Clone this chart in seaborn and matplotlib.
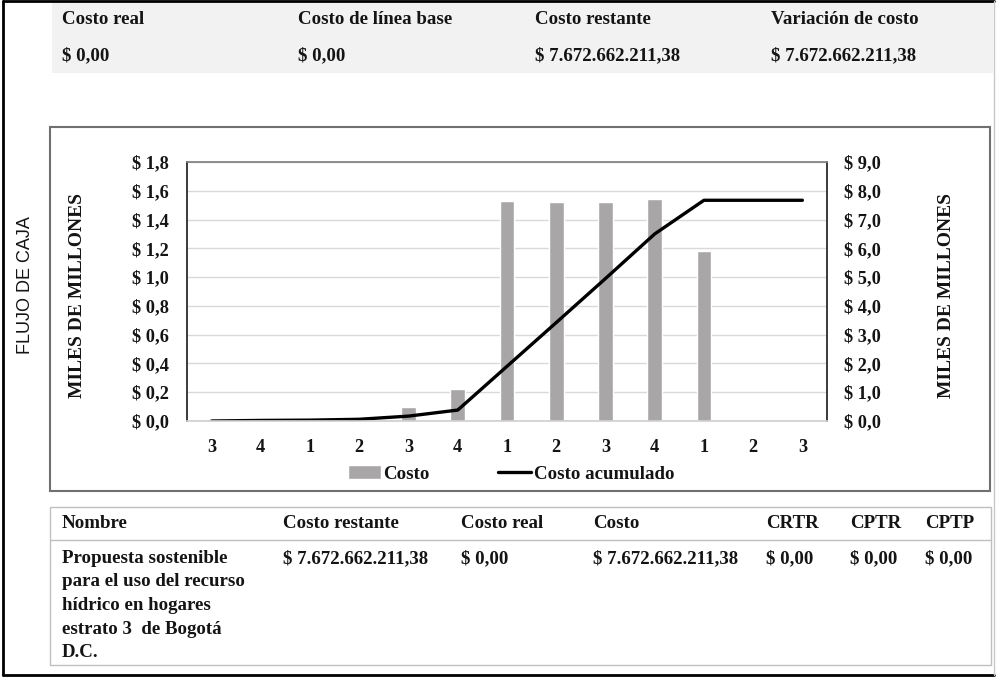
import numpy as np
import pandas as pd
import matplotlib
matplotlib.use("Agg")
from matplotlib import pyplot
from matplotlib.patches import Rectangle
from matplotlib.lines import Line2D
import matplotlib.ticker as mtick
import seaborn as sns

# datos (miles de millones)
trimestres = ["3", "4", "1", "2", "3", "4", "1", "2", "3", "4", "1", "2", "3"]
costo = [0.0, 0.01, 0.01, 0.02, 0.10, 0.22, 1.53, 1.52, 1.52, 1.54, 1.18, 0.0, 0.0]
costo_acumulado = [0.0, 0.02, 0.03, 0.06, 0.17, 0.38, 1.90, 3.42, 4.95, 6.50, 7.67, 7.67, 7.67]

resumen_titulos = ["Costo real", "Costo de línea base", "Costo restante", "Variación de costo"]
resumen_valores = [r"\$ 0,00", r"\$ 0,00", r"\$ 7.672.662.211,38", r"\$ 7.672.662.211,38"]

tabla_titulos = ["Nombre", "Costo restante", "Costo real", "Costo", "CRTR", "CPTR", "CPTP"]
tabla_valores = ["Propuesta sostenible\npara el uso del recurso\nhídrico en hogares\nestrato 3  de Bogotá\nD.C.",
                 r"\$ 7.672.662.211,38", r"\$ 0,00", r"\$ 7.672.662.211,38",
                 r"\$ 0,00", r"\$ 0,00", r"\$ 0,00"]

sns.set_theme(style="white")
pyplot.rcParams["font.family"] = ["Liberation Serif", "DejaVu Serif"]
txt = "#141414"
W, H = 996, 677

fig = pyplot.figure(figsize=(W / 100, H / 100), dpi=100)

def fx(px):
    return px / W

def fy(py):
    return 1 - py / H

def bold(x, y, s, size=13.6, **kw):
    fig.text(fx(x), fy(y), s, fontsize=size, fontweight="bold", color=txt, **kw)

# marco exterior
fig.add_artist(Line2D([fx(3), fx(3)], [fy(1), fy(675)], color="black", lw=2))
fig.add_artist(Line2D([fx(3), fx(994)], [fy(1), fy(1)], color="black", lw=2))
fig.add_artist(Line2D([fx(3), fx(994)], [fy(675), fy(675)], color="black", lw=2))
fig.add_artist(Line2D([fx(994), fx(994)], [fy(1), fy(675)], color="#c8c8c8", lw=1))

# cabecera de resumen
fig.add_artist(Rectangle((fx(52), fy(73)), fx(993) - fx(52), fy(2) - fy(73),
                         facecolor="#f2f2f2", edgecolor="none"))
for x, t, v in zip([62, 298, 535, 771], resumen_titulos, resumen_valores):
    bold(x, 19, t, va="center")
    bold(x, 56, v, va="center")

# marco del grafico
fig.add_artist(Rectangle((fx(50), fy(491)), fx(990) - fx(50), fy(127) - fy(491),
                         facecolor="none", edgecolor="#707070", lw=1.5))

ax = fig.add_axes([fx(187), fy(421), fx(827) - fx(187), fy(162) - fy(421)])
df = pd.DataFrame({"periodo": np.arange(len(trimestres)), "costo": costo,
                   "acumulado": costo_acumulado})

sns.barplot(data=df, x="periodo", y="costo", color="#a8a6a6", saturation=1,
            width=0.3, ax=ax, label="Costo")
ax2 = ax.twinx()
sns.lineplot(data=df, x="periodo", y="acumulado", color="black", lw=2.4,
             ax=ax2, label="Costo acumulado")

ax.set_xlim(-0.5, len(trimestres) - 0.5)
ax.set_ylim(0, 1.8)
ax2.set_ylim(0, 9.0)
ax.set_yticks(np.arange(0, 1.81, 0.2))
ax2.set_yticks(np.arange(0, 9.01, 1.0))
ax.yaxis.set_major_formatter(mtick.FuncFormatter(lambda v, _: "\\$ " + f"{v:.1f}".replace(".", ",")))
ax2.yaxis.set_major_formatter(mtick.FuncFormatter(lambda v, _: "\\$ " + f"{v:.1f}".replace(".", ",")))
ax.set_xticks(range(len(trimestres)))
ax.set_xticklabels(trimestres)
ax.grid(axis="y", color="#d9d9d9", lw=1)
ax.set_axisbelow(True)
ax.set_xlabel("")
ax.set_ylabel("")
ax2.set_xlabel("")
ax2.set_ylabel("")
for a in (ax, ax2):
    a.tick_params(length=0, labelsize=13.2, colors=txt)
    for lab in a.get_yticklabels() + a.get_xticklabels():
        lab.set_fontweight("bold")
ax.tick_params(axis="y", pad=13)
ax.tick_params(axis="x", pad=13)
ax2.tick_params(axis="y", pad=12)
ax2.spines["left"].set_color("#222222")
ax2.spines["right"].set_color("#222222")
ax2.spines["top"].set_color("#808080")
ax2.spines["bottom"].set_color("#d0d0d0")
for s in ax.spines.values():
    s.set_visible(False)

h1, l1 = ax.get_legend_handles_labels()
h2, l2 = ax2.get_legend_handles_labels()
ax2.get_legend().remove()
if ax.get_legend() is not None:
    ax.get_legend().remove()
fig.legend(h1 + h2, l1 + l2, loc="center", bbox_to_anchor=(fx(511), fy(474)), ncol=2,
           frameon=False, prop={"weight": "bold", "size": 13.6}, handlelength=1.75,
           handletextpad=0.15, columnspacing=3.6, labelcolor=txt)

bold(77, 295, "MILES DE MILLONES", size=14, rotation=90, ha="center", va="center")
bold(946, 295, "MILES DE MILLONES", size=14, rotation=90, ha="center", va="center")
fig.text(fx(25), fy(285), "FLUJO DE CAJA", rotation=90, ha="center", va="center",
         fontsize=13, color=txt, family=["Liberation Sans", "DejaVu Sans"])

# tabla inferior
fig.add_artist(Rectangle((fx(50), fy(665)), fx(991) - fx(50), fy(507) - fy(665),
                         facecolor="none", edgecolor="#c0c0c0", lw=1))
fig.add_artist(Line2D([fx(50), fx(991)], [fy(540), fy(540)], color="#c0c0c0", lw=1))
for x, t, v in zip([62, 283, 461, 593, 766, 850, 925], tabla_titulos, tabla_valores):
    bold(x, 524, t, va="center")
    bold(x, 550, v, va="top", linespacing=1.5)

pyplot.savefig("out.png", dpi=100)
